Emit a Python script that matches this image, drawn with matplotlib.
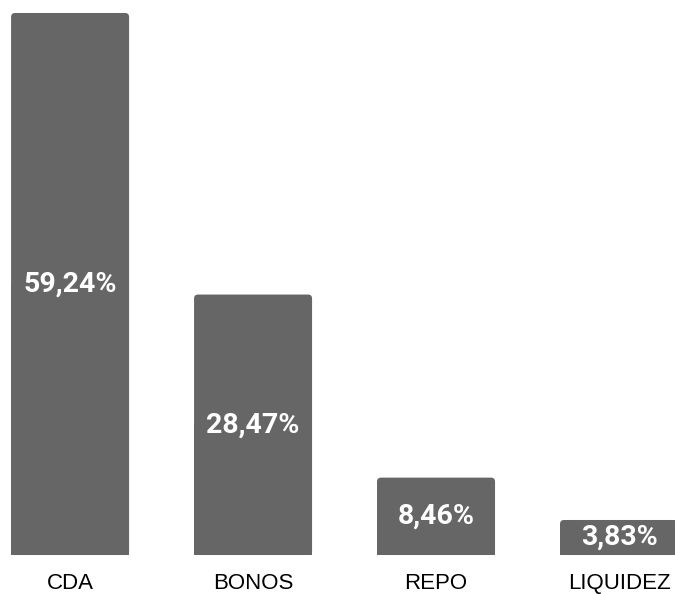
import matplotlib
matplotlib.use('Agg')
import matplotlib.pyplot as plt
from matplotlib.patches import FancyBboxPatch, Rectangle

# Composición del portafolio
categorias = ['CDA', 'BONOS', 'REPO', 'LIQUIDEZ']
porcentajes = [59.24, 28.47, 8.46, 3.83]
etiquetas = ['59,24%', '28,47%', '8,46%', '3,83%']

color_barra = '#666666'
ancho = 0.645

fig = plt.figure(figsize=(6.75, 5.94), dpi=100)
ax = fig.add_axes([0, 0, 1, 1])
ax.set_xlim(-0.383, 3.306)
ax.set_ylim(-4.26, 60.66)
ax.axis('off')

# barras con esquinas superiores redondeadas
radio = 0.022
aspecto = 183 / 9.15
for i, v in enumerate(porcentajes):
    x0 = i - ancho / 2
    ax.add_patch(FancyBboxPatch((x0, 0), ancho, v,
                                boxstyle=f'round,pad=0,rounding_size={radio}',
                                mutation_aspect=aspecto,
                                fc=color_barra, ec='none'))
    ax.add_patch(Rectangle((x0, 0), ancho, v / 2, fc=color_barra, ec='none'))
    ax.text(i, v / 2, etiquetas[i], ha='center', va='center', color='white',
            fontsize=20.5, fontweight='bold', family='Roboto')
    ax.text(i, -3.15, categorias[i], ha='center', va='center', color='black',
            fontsize=16, family='Liberation Sans')

fig.savefig('out.png', dpi=100, facecolor='white')
